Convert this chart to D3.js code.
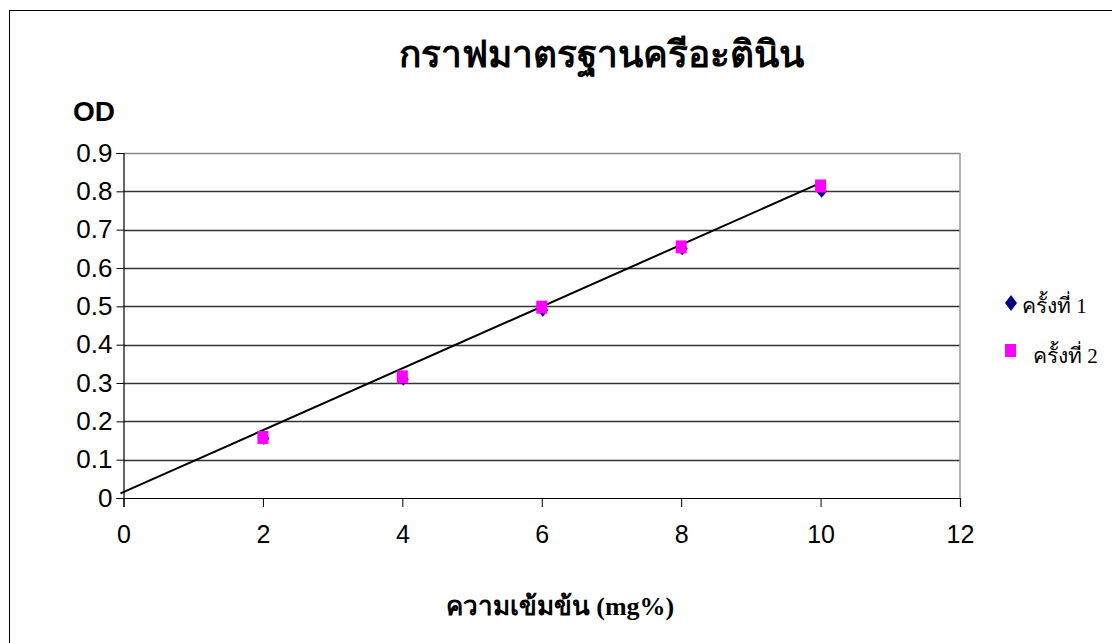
<!DOCTYPE html>
<html>
<head>
<meta charset="utf-8">
<script src="https://cdn.jsdelivr.net/npm/d3@7"></script>
<style>
  html, body { margin: 0; padding: 0; background: #fff; }
  svg { display: block; }
</style>
</head>
<body>
<svg id="chart" width="1112" height="643"></svg>
<script>
// Creatinine standard curve: concentration (mg%) vs optical density
const concentrations = [2, 4, 6, 8, 10];
const run1 = [0.155, 0.31, 0.49, 0.65, 0.80];
const run2 = [0.158, 0.316, 0.498, 0.655, 0.814];
const seriesNames = ["ครั้งที่ 1", "ครั้งที่ 2"];
const trendX = [0, 10];
const trendY = [0.012, 0.822];
const xTicks = [0, 2, 4, 6, 8, 10, 12];
const yTicks = [0, 0.1, 0.2, 0.3, 0.4, 0.5, 0.6, 0.7, 0.8, 0.9];

const svg = d3.select("#chart");
const sans = "Arial, 'Liberation Sans', sans-serif";
const serif = "'Times New Roman', 'Liberation Serif', serif";

const x = d3.scaleLinear().domain([0, 12]).range([123.5, 960]);
const y = d3.scaleLinear().domain([0, 0.9]).range([498, 153]);

// outer chart frame
svg.append("rect")
  .attr("x", 9.5).attr("y", 10.5)
  .attr("width", 1110).attr("height", 640)
  .attr("fill", "#fff").attr("stroke", "#000").attr("stroke-width", 1);

// horizontal gridlines
svg.append("g")
  .selectAll("line")
  .data(yTicks.filter(d => d > 0))
  .join("line")
  .attr("x1", x(0)).attr("x2", x(12))
  .attr("y1", d => Math.round(y(d)) + 0.5).attr("y2", d => Math.round(y(d)) + 0.5)
  .attr("stroke", d => d === 0.9 ? "#888" : "#333")
  .attr("stroke-width", 1.4);

// right edge of plot area
svg.append("line")
  .attr("x1", x(12)).attr("x2", x(12))
  .attr("y1", y(0.9)).attr("y2", y(0))
  .attr("stroke", "#999").attr("stroke-width", 1.5);

// y axis
const yAxis = svg.append("g")
  .attr("transform", `translate(${x(0)},0)`)
  .call(d3.axisLeft(y).tickValues(yTicks).tickSize(7).tickPadding(4)
    .tickFormat(d => d === 0 ? "0" : d3.format(".1f")(d)));
yAxis.select(".domain").attr("stroke", "#000").attr("stroke-width", 1.2);
yAxis.selectAll(".tick line").attr("stroke", "#000");
yAxis.selectAll("text")
  .attr("font-family", sans).attr("font-size", 26).attr("fill", "#000");

// x axis
const xAxis = svg.append("g")
  .attr("transform", `translate(0,${y(0)})`)
  .call(d3.axisBottom(x).tickValues(xTicks).tickSize(9).tickPadding(18)
    .tickFormat(d3.format("d")));
xAxis.select(".domain").attr("stroke", "#000").attr("stroke-width", 1.2);
xAxis.selectAll(".tick line").attr("stroke", "#000");
xAxis.selectAll("text")
  .attr("font-family", sans).attr("font-size", 25).attr("fill", "#000");

// fitted line
svg.append("line")
  .attr("x1", x(trendX[0]) - 3).attr("y1", y(trendY[0]))
  .attr("x2", x(trendX[1])).attr("y2", y(trendY[1]))
  .attr("stroke", "#000").attr("stroke-width", 2);

// markers
const diamond = (cx, cy, w, h) =>
  `M${cx},${cy - h / 2}L${cx + w / 2},${cy}L${cx},${cy + h / 2}L${cx - w / 2},${cy}Z`;

svg.append("g")
  .selectAll("path")
  .data(concentrations.map((c, i) => [c, run1[i]]))
  .join("path")
  .attr("d", d => diamond(x(d[0]) + 1, y(d[1]), 11, 13))
  .attr("fill", "#000080");

svg.append("g")
  .selectAll("rect")
  .data(concentrations.map((c, i) => [c, run2[i]]))
  .join("rect")
  .attr("x", d => x(d[0]) - 5.5).attr("y", d => y(d[1]) - 6.5)
  .attr("width", 11).attr("height", 13)
  .attr("fill", "#ff00ff");

// legend
const legend = svg.append("g");
legend.append("path").attr("d", diamond(1011, 303, 12, 16)).attr("fill", "#000080");
legend.append("text").attr("x", 1022).attr("y", 313)
  .attr("font-family", serif).attr("font-size", 21).text(seriesNames[0]);
legend.append("rect").attr("x", 1005).attr("y", 344).attr("width", 11).attr("height", 13)
  .attr("fill", "#ff00ff");
legend.append("text").attr("x", 1033).attr("y", 363)
  .attr("font-family", serif).attr("font-size", 21).text(seriesNames[1]);

// titles
svg.append("text")
  .attr("x", 601).attr("y", 67).attr("text-anchor", "middle")
  .attr("font-family", "Tahoma, " + sans).attr("font-weight", "bold").attr("font-size", 37)
  .text("กราฟมาตรฐานครีอะตินิน");

svg.append("text")
  .attr("x", 73).attr("y", 121)
  .attr("font-family", sans).attr("font-weight", "bold").attr("font-size", 28)
  .text("OD");

svg.append("text")
  .attr("x", 560).attr("y", 615).attr("text-anchor", "middle")
  .attr("font-family", serif).attr("font-weight", "bold").attr("font-size", 26)
  .text("ความเข้มข้น (mg%)");
</script>
</body>
</html>
